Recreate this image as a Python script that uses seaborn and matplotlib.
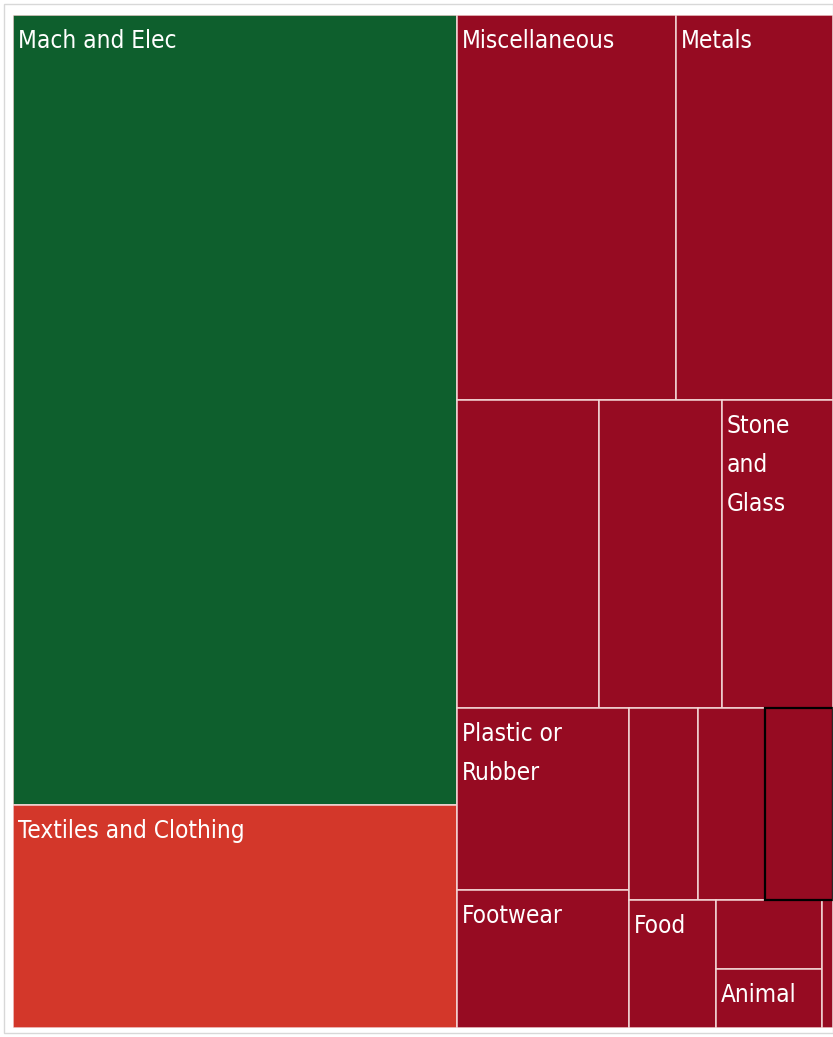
import matplotlib.pyplot as plt
import seaborn as sns
from matplotlib.patches import Rectangle

# tile labels (empty = tile shown without a label)
labels = ["Mach and Elec", "Textiles and Clothing", "Miscellaneous", "Metals",
          "", "", "Stone\nand\nGlass", "Plastic or\nRubber", "Footwear",
          "", "", "", "Food", "", "Animal", ""]
# share of total (%) read from tile areas
shares = [42.2, 11.9, 10.15, 7.28, 5.27, 4.56, 4.12, 3.77, 2.86,
          1.59, 1.55, 1.57, 1.34, 0.88, 0.75, 0.17]
colors = ["#0e5f2d", "#d3372a"] + ["#960b22"] * 14
# nesting of tile indices; split direction alternates x / y with depth
groups = [[0, 1], [[2, 3], [4, 5, 6], [[7, 8], [[9, 10, 11], [12, [13, 14], 15]]]]]
highlight = 11


def total(node):
    if isinstance(node, int):
        return shares[node]
    return sum(total(n) for n in node)


def layout(node, x, y, w, h, depth, out):
    if isinstance(node, int):
        out[node] = (x, y, w, h)
        return
    t = total(node)
    for child in node:
        f = total(child) / t
        if depth % 2 == 0:
            layout(child, x, y, w * f, h, depth + 1, out)
            x += w * f
        else:
            layout(child, x, y, w, h * f, depth + 1, out)
            y += h * f


sns.set_theme(style="white")
plt.rcParams['font.family'] = ['DejaVu Sans']

fig = plt.figure(figsize=(8.33, 10.37), dpi=100)
W, H = 833, 1037
ax = fig.add_axes([13 / W, (H - 1028) / H, 820 / W, 1013 / H])

rects = {}
layout(groups, 0, 0, 1, 1, 0, rects)

for i in range(len(shares)):
    x, y, w, h = rects[i]
    ax.bar(x, h, width=w, bottom=y, align='edge', color=colors[i],
           edgecolor="#f3d6d6", linewidth=1.1)
    if labels[i]:
        ax.annotate(labels[i], (x, y), xytext=(3.5, -10), textcoords='offset points',
                    ha='left', va='top', color='white', fontsize=17.5,
                    fontstretch='condensed', linespacing=1.8)

x, y, w, h = rects[highlight]
ax.bar(x, h, width=w, bottom=y, align='edge', fill=False,
       edgecolor='black', linewidth=1.6)

ax.set_xlim(0, 1)
ax.set_ylim(1, 0)
ax.axis('off')

fig.add_artist(Rectangle((4 / W, 4 / H), 829 / W, 1029 / H, transform=fig.transFigure,
                         fill=False, edgecolor="#d8d8d8", linewidth=1))

fig.savefig("out.png", dpi=100)
